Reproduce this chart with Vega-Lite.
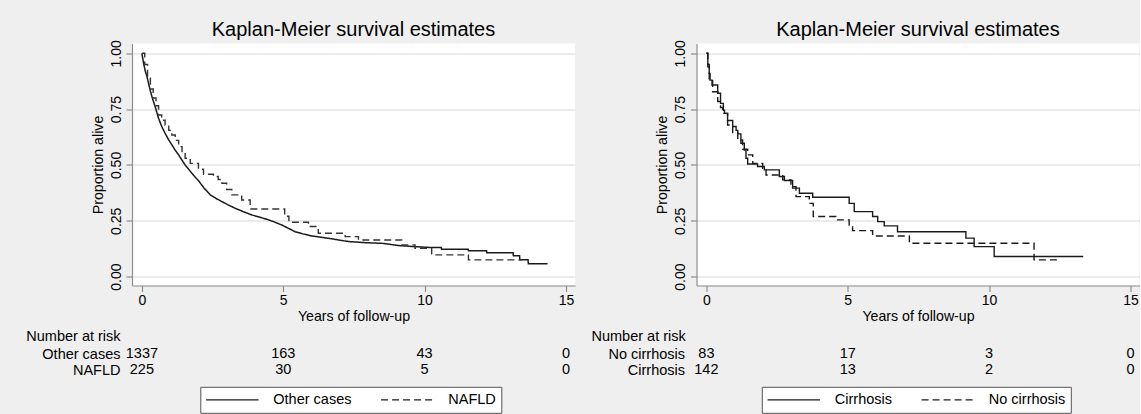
{
  "$schema": "https://vega.github.io/schema/vega-lite/v6.json",
  "background": "#efefef",
  "padding": {"left": 26, "top": 19.5, "right": 0, "bottom": 0},
  "autosize": {"type": "pad"},
  "bounds": "flush",
  "columns": 2,
  "spacing": {"column": 121.5, "row": 60.7},
  "resolve": {"scale": {"strokeDash": "independent"}, "legend": {"strokeDash": "independent"}},
  "config": {
    "font": "Liberation Sans",
    "view": {"stroke": null},
    "title": {"fontSize": 20, "fontWeight": "normal", "color": "black", "frame": "group", "baseline": "middle"},
    "axis": {"labelColor": "black", "titleColor": "black", "domainColor": "#8c8c8c", "tickColor": "#8c8c8c", "labelFontSize": 14, "titleFontSize": 14.2, "titleFontWeight": "normal", "tickSize": 6, "domainWidth": 1.2, "tickWidth": 1.2}
  },
  "datasets": {
    "L": [
      {"g": "Other cases", "t": 0, "s": 1},
      {"g": "Other cases", "t": 0.06, "s": 0.955},
      {"g": "Other cases", "t": 0.12, "s": 0.92},
      {"g": "Other cases", "t": 0.18, "s": 0.896},
      {"g": "Other cases", "t": 0.29, "s": 0.836},
      {"g": "Other cases", "t": 0.38, "s": 0.795},
      {"g": "Other cases", "t": 0.47, "s": 0.761},
      {"g": "Other cases", "t": 0.59, "s": 0.709},
      {"g": "Other cases", "t": 0.7, "s": 0.673},
      {"g": "Other cases", "t": 0.82, "s": 0.642},
      {"g": "Other cases", "t": 0.94, "s": 0.614},
      {"g": "Other cases", "t": 1.06, "s": 0.59},
      {"g": "Other cases", "t": 1.18, "s": 0.566},
      {"g": "Other cases", "t": 1.3, "s": 0.545},
      {"g": "Other cases", "t": 1.42, "s": 0.521},
      {"g": "Other cases", "t": 1.53, "s": 0.5},
      {"g": "Other cases", "t": 1.65, "s": 0.481},
      {"g": "Other cases", "t": 1.77, "s": 0.463},
      {"g": "Other cases", "t": 1.88, "s": 0.446},
      {"g": "Other cases", "t": 2.0, "s": 0.43},
      {"g": "Other cases", "t": 2.2, "s": 0.396},
      {"g": "Other cases", "t": 2.42, "s": 0.366},
      {"g": "Other cases", "t": 2.62, "s": 0.35},
      {"g": "Other cases", "t": 2.83, "s": 0.336},
      {"g": "Other cases", "t": 3.05, "s": 0.321},
      {"g": "Other cases", "t": 3.3, "s": 0.306},
      {"g": "Other cases", "t": 3.6, "s": 0.29},
      {"g": "Other cases", "t": 3.89, "s": 0.276},
      {"g": "Other cases", "t": 4.2, "s": 0.265},
      {"g": "Other cases", "t": 4.48, "s": 0.254},
      {"g": "Other cases", "t": 4.7, "s": 0.244},
      {"g": "Other cases", "t": 4.95, "s": 0.231},
      {"g": "Other cases", "t": 5.2, "s": 0.215},
      {"g": "Other cases", "t": 5.42, "s": 0.201},
      {"g": "Other cases", "t": 5.7, "s": 0.191},
      {"g": "Other cases", "t": 6.01, "s": 0.182},
      {"g": "Other cases", "t": 6.35, "s": 0.176},
      {"g": "Other cases", "t": 6.72, "s": 0.169},
      {"g": "Other cases", "t": 7.0, "s": 0.163},
      {"g": "Other cases", "t": 7.31, "s": 0.157},
      {"g": "Other cases", "t": 7.89, "s": 0.152},
      {"g": "Other cases", "t": 8.48, "s": 0.149},
      {"g": "Other cases", "t": 8.8, "s": 0.144},
      {"g": "Other cases", "t": 9.07, "s": 0.139},
      {"g": "Other cases", "t": 9.66, "s": 0.134},
      {"g": "Other cases", "t": 10.25, "s": 0.13},
      {"g": "Other cases", "t": 10.59, "s": 0.13},
      {"g": "Other cases", "t": 10.6, "s": 0.122},
      {"g": "Other cases", "t": 11.54, "s": 0.122},
      {"g": "Other cases", "t": 11.55, "s": 0.116},
      {"g": "Other cases", "t": 12.19, "s": 0.116},
      {"g": "Other cases", "t": 12.2, "s": 0.107},
      {"g": "Other cases", "t": 13.13, "s": 0.107},
      {"g": "Other cases", "t": 13.14, "s": 0.093},
      {"g": "Other cases", "t": 13.36, "s": 0.093},
      {"g": "Other cases", "t": 13.37, "s": 0.075},
      {"g": "Other cases", "t": 13.66, "s": 0.075},
      {"g": "Other cases", "t": 13.67, "s": 0.057},
      {"g": "Other cases", "t": 14.35, "s": 0.057},
      {"g": "NAFLD", "t": 0, "s": 1},
      {"g": "NAFLD", "t": 0.1, "s": 0.95},
      {"g": "NAFLD", "t": 0.2, "s": 0.89},
      {"g": "NAFLD", "t": 0.3, "s": 0.84},
      {"g": "NAFLD", "t": 0.4, "s": 0.8},
      {"g": "NAFLD", "t": 0.5, "s": 0.765},
      {"g": "NAFLD", "t": 0.59, "s": 0.724},
      {"g": "NAFLD", "t": 0.7, "s": 0.7},
      {"g": "NAFLD", "t": 0.82, "s": 0.679},
      {"g": "NAFLD", "t": 0.95, "s": 0.655},
      {"g": "NAFLD", "t": 1.06, "s": 0.634},
      {"g": "NAFLD", "t": 1.18, "s": 0.61},
      {"g": "NAFLD", "t": 1.3, "s": 0.582},
      {"g": "NAFLD", "t": 1.42, "s": 0.555},
      {"g": "NAFLD", "t": 1.53, "s": 0.53},
      {"g": "NAFLD", "t": 1.71, "s": 0.507},
      {"g": "NAFLD", "t": 2.0, "s": 0.481},
      {"g": "NAFLD", "t": 2.18, "s": 0.458},
      {"g": "NAFLD", "t": 2.53, "s": 0.448},
      {"g": "NAFLD", "t": 2.7, "s": 0.435},
      {"g": "NAFLD", "t": 2.83, "s": 0.418},
      {"g": "NAFLD", "t": 3.0, "s": 0.39},
      {"g": "NAFLD", "t": 3.18, "s": 0.366},
      {"g": "NAFLD", "t": 3.53, "s": 0.343},
      {"g": "NAFLD", "t": 3.83, "s": 0.303},
      {"g": "NAFLD", "t": 5.05, "s": 0.27},
      {"g": "NAFLD", "t": 5.2, "s": 0.243},
      {"g": "NAFLD", "t": 5.89, "s": 0.224},
      {"g": "NAFLD", "t": 6.24, "s": 0.194},
      {"g": "NAFLD", "t": 7.19, "s": 0.179},
      {"g": "NAFLD", "t": 7.66, "s": 0.164},
      {"g": "NAFLD", "t": 9.19, "s": 0.142},
      {"g": "NAFLD", "t": 9.66, "s": 0.127},
      {"g": "NAFLD", "t": 10.25, "s": 0.097},
      {"g": "NAFLD", "t": 11.55, "s": 0.075},
      {"g": "NAFLD", "t": 13.43, "s": 0.075}
    ],
    "R": [
      {"g": "Cirrhosis", "t": 0, "s": 1},
      {"g": "Cirrhosis", "t": 0.05, "s": 0.95},
      {"g": "Cirrhosis", "t": 0.1, "s": 0.91},
      {"g": "Cirrhosis", "t": 0.13, "s": 0.88},
      {"g": "Cirrhosis", "t": 0.2, "s": 0.858},
      {"g": "Cirrhosis", "t": 0.4, "s": 0.821},
      {"g": "Cirrhosis", "t": 0.5, "s": 0.776},
      {"g": "Cirrhosis", "t": 0.6, "s": 0.745},
      {"g": "Cirrhosis", "t": 0.64, "s": 0.731},
      {"g": "Cirrhosis", "t": 0.75, "s": 0.699},
      {"g": "Cirrhosis", "t": 0.93, "s": 0.672},
      {"g": "Cirrhosis", "t": 1.05, "s": 0.655},
      {"g": "Cirrhosis", "t": 1.11, "s": 0.639},
      {"g": "Cirrhosis", "t": 1.22, "s": 0.597},
      {"g": "Cirrhosis", "t": 1.34, "s": 0.567},
      {"g": "Cirrhosis", "t": 1.4, "s": 0.53},
      {"g": "Cirrhosis", "t": 1.46, "s": 0.504},
      {"g": "Cirrhosis", "t": 1.81, "s": 0.493},
      {"g": "Cirrhosis", "t": 2.05, "s": 0.478},
      {"g": "Cirrhosis", "t": 2.58, "s": 0.448},
      {"g": "Cirrhosis", "t": 2.76, "s": 0.43},
      {"g": "Cirrhosis", "t": 3.05, "s": 0.396},
      {"g": "Cirrhosis", "t": 3.29, "s": 0.373},
      {"g": "Cirrhosis", "t": 3.76, "s": 0.355},
      {"g": "Cirrhosis", "t": 5.05, "s": 0.328},
      {"g": "Cirrhosis", "t": 5.23, "s": 0.291},
      {"g": "Cirrhosis", "t": 5.88, "s": 0.269},
      {"g": "Cirrhosis", "t": 6.06, "s": 0.246},
      {"g": "Cirrhosis", "t": 6.29, "s": 0.227},
      {"g": "Cirrhosis", "t": 6.76, "s": 0.201},
      {"g": "Cirrhosis", "t": 9.18, "s": 0.172},
      {"g": "Cirrhosis", "t": 9.47, "s": 0.134},
      {"g": "Cirrhosis", "t": 10.18, "s": 0.09},
      {"g": "Cirrhosis", "t": 13.33, "s": 0.09},
      {"g": "No cirrhosis", "t": 0, "s": 1},
      {"g": "No cirrhosis", "t": 0.05, "s": 0.94},
      {"g": "No cirrhosis", "t": 0.1, "s": 0.881},
      {"g": "No cirrhosis", "t": 0.22, "s": 0.828},
      {"g": "No cirrhosis", "t": 0.4, "s": 0.784},
      {"g": "No cirrhosis", "t": 0.5, "s": 0.757},
      {"g": "No cirrhosis", "t": 0.58, "s": 0.731},
      {"g": "No cirrhosis", "t": 0.75, "s": 0.679},
      {"g": "No cirrhosis", "t": 0.93, "s": 0.645},
      {"g": "No cirrhosis", "t": 1.11, "s": 0.612},
      {"g": "No cirrhosis", "t": 1.28, "s": 0.57},
      {"g": "No cirrhosis", "t": 1.46, "s": 0.545},
      {"g": "No cirrhosis", "t": 1.64, "s": 0.507},
      {"g": "No cirrhosis", "t": 1.99, "s": 0.478},
      {"g": "No cirrhosis", "t": 2.11, "s": 0.455},
      {"g": "No cirrhosis", "t": 2.7, "s": 0.433},
      {"g": "No cirrhosis", "t": 2.99, "s": 0.403},
      {"g": "No cirrhosis", "t": 3.17, "s": 0.358},
      {"g": "No cirrhosis", "t": 3.64, "s": 0.328},
      {"g": "No cirrhosis", "t": 3.78, "s": 0.269},
      {"g": "No cirrhosis", "t": 4.58, "s": 0.254},
      {"g": "No cirrhosis", "t": 5.05, "s": 0.231},
      {"g": "No cirrhosis", "t": 5.17, "s": 0.206},
      {"g": "No cirrhosis", "t": 5.88, "s": 0.182},
      {"g": "No cirrhosis", "t": 7.18, "s": 0.149},
      {"g": "No cirrhosis", "t": 11.59, "s": 0.075},
      {"g": "No cirrhosis", "t": 12.54, "s": 0.075}
    ],
    "RL": [
      {"g": "Other cases", "t": 0, "n": "1337"},
      {"g": "Other cases", "t": 5, "n": "163"},
      {"g": "Other cases", "t": 10, "n": "43"},
      {"g": "Other cases", "t": 15, "n": "0"},
      {"g": "NAFLD", "t": 0, "n": "225"},
      {"g": "NAFLD", "t": 5, "n": "30"},
      {"g": "NAFLD", "t": 10, "n": "5"},
      {"g": "NAFLD", "t": 15, "n": "0"}
    ],
    "RR": [
      {"g": "No cirrhosis", "t": 0, "n": "83"},
      {"g": "No cirrhosis", "t": 5, "n": "17"},
      {"g": "No cirrhosis", "t": 10, "n": "3"},
      {"g": "No cirrhosis", "t": 15, "n": "0"},
      {"g": "Cirrhosis", "t": 0, "n": "142"},
      {"g": "Cirrhosis", "t": 5, "n": "13"},
      {"g": "Cirrhosis", "t": 10, "n": "2"},
      {"g": "Cirrhosis", "t": 15, "n": "0"}
    ]
  },
  "concat": [
    {
      "width": 443, "height": 242,
      "view": {"fill": "white", "stroke": null},
      "title": {"text": "Kaplan-Meier survival estimates", "offset": 0},
      "data": {"name": "L"},
      "encoding": {
        "x": {"field": "t", "type": "quantitative", "scale": {"domain": [-0.35, 15.32], "nice": false, "zero": false}, "axis": {"values": [0, 5, 10, 15], "grid": false, "labelPadding": 2, "titlePadding": 2, "title": "Years of follow-up"}},
        "y": {"field": "s", "type": "quantitative", "scale": {"domain": [-0.04, 1.044], "nice": false, "zero": false}, "axis": {"values": [0, 0.25, 0.5, 0.75, 1], "format": ".2f", "labelAngle": -90, "grid": true, "gridColor": "#e4e4e4", "gridWidth": 1.3, "labelPadding": 3, "titlePadding": 4, "title": "Proportion alive"}},
        "strokeDash": {"field": "g", "type": "nominal", "scale": {"domain": ["Other cases", "NAFLD"], "range": [[1, 0], [7, 4]]},
          "legend": {"orient": "none", "legendX": 68.3, "legendY": 343.3, "direction": "horizontal", "title": null, "padding": 5, "fillColor": "white", "strokeColor": "#555555", "symbolType": "stroke", "symbolSize": 2750, "symbolStrokeWidth": 1.3, "symbolStrokeColor": "#1a1a1a", "labelFontSize": 14.5, "labelColor": "black", "labelOffset": 14, "columnPadding": 28, "clipHeight": 16, "labelLimit": 300}}
      },
      "layer": [
        {"transform": [{"filter": "datum.g === 'Other cases'"}], "mark": {"type": "line", "interpolate": "linear", "color": "#1a1a1a", "strokeWidth": 1.5}},
        {"transform": [{"filter": "datum.g === 'NAFLD'"}], "mark": {"type": "line", "interpolate": "step-after", "color": "#333333", "strokeWidth": 1.4}}
      ]
    },
    {
      "width": 443, "height": 242,
      "view": {"fill": "white", "stroke": null},
      "title": {"text": "Kaplan-Meier survival estimates", "offset": 0},
      "data": {"name": "R"},
      "mark": {"type": "line", "interpolate": "step-after", "color": "#1a1a1a", "strokeWidth": 1.4},
      "encoding": {
        "x": {"field": "t", "type": "quantitative", "scale": {"domain": [-0.35, 15.32], "nice": false, "zero": false}, "axis": {"values": [0, 5, 10, 15], "grid": false, "labelPadding": 2, "titlePadding": 2, "title": "Years of follow-up"}},
        "y": {"field": "s", "type": "quantitative", "scale": {"domain": [-0.04, 1.044], "nice": false, "zero": false}, "axis": {"values": [0, 0.25, 0.5, 0.75, 1], "format": ".2f", "labelAngle": -90, "grid": true, "gridColor": "#e4e4e4", "gridWidth": 1.3, "labelPadding": 3, "titlePadding": 4, "title": "Proportion alive"}},
        "strokeDash": {"field": "g", "type": "nominal", "scale": {"domain": ["Cirrhosis", "No cirrhosis"], "range": [[1, 0], [7, 4]]},
          "legend": {"orient": "none", "legendX": 65.3, "legendY": 343.3, "direction": "horizontal", "title": null, "padding": 5, "fillColor": "white", "strokeColor": "#555555", "symbolType": "stroke", "symbolSize": 2750, "symbolStrokeWidth": 1.3, "symbolStrokeColor": "#1a1a1a", "labelFontSize": 14.5, "labelColor": "black", "labelOffset": 14, "columnPadding": 28, "clipHeight": 16, "labelLimit": 300}}
      }
    },
    {
      "width": 443, "height": 32,
      "title": {"text": "Number at risk", "anchor": "start", "dx": -105.7, "fontSize": 14.5, "offset": 2},
      "data": {"name": "RL"},
      "mark": {"type": "text", "fontSize": 14.5, "color": "black"},
      "encoding": {
        "x": {"field": "t", "type": "quantitative", "scale": {"domain": [-0.35, 15.32], "nice": false, "zero": false}, "axis": null},
        "y": {"field": "g", "type": "nominal", "sort": ["Other cases", "NAFLD"], "axis": {"title": null, "domain": false, "ticks": false, "grid": false, "labelPadding": 12, "labelFontSize": 14.5, "labelColor": "black"}},
        "text": {"field": "n", "type": "nominal"}
      }
    },
    {
      "width": 443, "height": 32,
      "title": {"text": "Number at risk", "anchor": "start", "dx": -105, "fontSize": 14.5, "offset": 2},
      "data": {"name": "RR"},
      "mark": {"type": "text", "fontSize": 14.5, "color": "black"},
      "encoding": {
        "x": {"field": "t", "type": "quantitative", "scale": {"domain": [-0.35, 15.32], "nice": false, "zero": false}, "axis": null},
        "y": {"field": "g", "type": "nominal", "sort": ["No cirrhosis", "Cirrhosis"], "axis": {"title": null, "domain": false, "ticks": false, "grid": false, "labelPadding": 12, "labelFontSize": 14.5, "labelColor": "black"}},
        "text": {"field": "n", "type": "nominal"}
      }
    }
  ]
}
